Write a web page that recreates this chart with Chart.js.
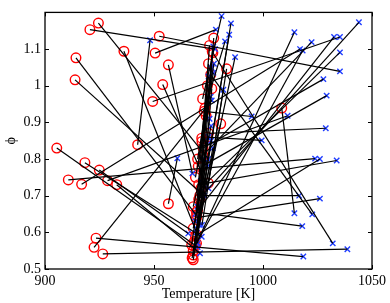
<!DOCTYPE html>
<html>
<head>
<meta charset="utf-8">
<script src="https://cdn.jsdelivr.net/npm/chart.js@4.4.1/dist/chart.umd.min.js"></script>
<style>
  html, body { margin: 0; padding: 0; background: #fff; }
</style>
</head>
<body>
<canvas id="phiChart" width="390" height="303"></canvas>
<script>
// each index i is one pair: red circle (start) joined to blue cross (end)
const redT = [
  924.5, 920.6, 914.2, 913.8, 936.2, 952.4, 950.5, 956.6, 954.0, 949.4,
  942.5, 905.4, 918.3, 924.9, 910.7, 916.8, 928.7, 932.9, 923.4, 922.5,
  926.5, 956.6, 970.5, 969.5, 972.5, 969.0, 970.0, 971.5, 972.5, 972.0,
  975.0, 974.5, 1008.6, 971.0, 969.0, 970.5, 969.5, 976.0, 977.0, 969.5,
  973.0, 968.0, 967.5, 968.5, 983.3, 977.4, 976.7, 976.5, 972.3, 973.4,
  973.9, 980.6, 971.9, 972.0, 970.3, 974.9, 971.1, 968.0, 969.6, 968.0,
  969.6, 967.3, 968.0, 968.0, 969.0, 970.0, 975.5, 974.5, 975.0
];
const redPhi = [
  1.171, 1.153, 1.076, 1.016, 1.094, 1.135, 1.089, 1.057, 1.003, 0.957,
  0.839, 0.830, 0.790, 0.770, 0.743, 0.731, 0.741, 0.730, 0.584, 0.559,
  0.541, 0.678, 0.690, 0.570, 0.810, 0.565, 0.660, 0.720, 0.830, 0.780,
  0.870, 0.860, 0.939, 0.700, 0.590, 0.730, 0.640, 1.030, 1.090, 0.655,
  0.930, 0.550, 0.530, 0.575, 1.046, 1.130, 1.094, 0.992, 0.964, 0.939,
  0.918, 0.896, 0.857, 0.848, 0.780, 0.734, 0.693, 0.670, 0.648, 0.611,
  0.593, 0.566, 0.538, 0.525, 0.750, 0.800, 1.110, 1.000, 1.060
];
const blueT = [
  975.0, 978.0, 969.0, 971.0, 969.5, 1035.3, 978.4, 967.6, 975.0, 1035.3,
  948.2, 970.0, 971.9, 965.7, 1023.9, 1017.0, 1011.3, 971.1, 1018.5, 976.5,
  1038.7, 960.7, 1044.0, 1014.4, 1022.3, 1018.2, 1032.6, 1035.3, 1027.7, 1029.2,
  1028.8, 999.4, 1014.4, 1016.6, 1026.1, 1033.8, 1026.1, 1022.6, 1032.0, 1018.0,
  994.8, 987.2, 985.3, 984.5, 972.0, 970.0, 969.6, 971.0, 981.0, 982.6,
  977.2, 970.5, 976.5, 977.2, 975.0, 981.8, 975.5, 976.2, 975.0, 976.2,
  977.0, 973.0, 974.5, 973.0, 976.0, 977.5, 969.0, 970.0, 971.5
];
const bluePhi = [
  0.800, 1.100, 0.650, 0.710, 0.600, 1.039, 1.153, 0.761, 0.720, 1.133,
  1.124, 0.560, 0.588, 0.597, 0.801, 1.100, 0.918, 0.543, 0.534, 0.960,
  0.554, 0.802, 1.173, 1.146, 1.119, 1.096, 1.133, 1.091, 1.018, 0.973,
  0.884, 0.851, 0.652, 0.700, 0.800, 0.796, 0.692, 0.649, 0.570, 0.617,
  0.916, 1.078, 1.170, 1.139, 0.620, 0.570, 0.610, 0.620, 1.190, 1.121,
  1.107, 0.660, 1.048, 1.035, 1.025, 0.989, 0.910, 0.890, 0.860, 0.850,
  0.830, 0.800, 0.780, 0.700, 0.970, 1.060, 0.630, 0.670, 0.740
];
const xTicks = [900, 950, 1000, 1050];
const yTicks = [0.5, 0.6, 0.7, 0.8, 0.9, 1.0, 1.1];

const serif = "'Liberation Serif', 'DejaVu Serif', serif";

// matlab-like box with inward ticks on all four sides
const boxTicks = {
  id: "boxTicks",
  afterDatasetsDraw(chart) {
    const { ctx, chartArea: a, scales: { x, y } } = chart;
    ctx.save();
    ctx.strokeStyle = "#000";
    ctx.lineWidth = 1.3;
    ctx.strokeRect(a.left, a.top, a.right - a.left, a.bottom - a.top);
    ctx.lineWidth = 1;
    ctx.beginPath();
    xTicks.forEach((v) => {
      const px = Math.round(x.getPixelForValue(v)) + 0.5;
      ctx.moveTo(px, a.bottom); ctx.lineTo(px, a.bottom - 4);
      ctx.moveTo(px, a.top); ctx.lineTo(px, a.top + 4);
    });
    yTicks.forEach((v) => {
      const py = Math.round(y.getPixelForValue(v)) + 0.5;
      ctx.moveTo(a.left, py); ctx.lineTo(a.left + 4, py);
      ctx.moveTo(a.right, py); ctx.lineTo(a.right - 4, py);
    });
    ctx.stroke();
    ctx.restore();
  },
};

const lineSets = redT.map((t, i) => ({
  data: [{ x: t, y: redPhi[i] }, { x: blueT[i], y: bluePhi[i] }],
  showLine: true,
  borderColor: "#000",
  borderWidth: 1.2,
  pointRadius: 0,
  pointHoverRadius: 0,
  clip: false,
}));

new Chart(document.getElementById("phiChart"), {
  type: "scatter",
  data: {
    datasets: [
      ...lineSets,
      {
        data: blueT.map((t, i) => ({ x: t, y: bluePhi[i] })),
        pointStyle: "crossRot",
        pointRadius: 3.8,
        borderColor: "#1f3dff",
        borderWidth: 1.4,
        clip: false,
      },
      {
        data: redT.map((t, i) => ({ x: t, y: redPhi[i] })),
        pointStyle: "circle",
        pointRadius: 4.8,
        borderColor: "#ff0000",
        backgroundColor: "rgba(0,0,0,0)",
        borderWidth: 1.4,
        clip: false,
      },
    ],
  },
  options: {
    responsive: false,
    animation: false,
    devicePixelRatio: 1,
    layout: { padding: { left: 0, right: 18, top: 10, bottom: 0 } },
    plugins: { legend: { display: false }, tooltip: { enabled: false } },
    scales: {
      x: {
        type: "linear",
        min: 900,
        max: 1050,
        afterBuildTicks: (s) => { s.ticks = xTicks.map((v) => ({ value: v })); },
        afterFit: (s) => { s.height = 34; },
        grid: { display: false, drawTicks: false },
        border: { display: false },
        ticks: {
          color: "#000",
          padding: 4,
          maxRotation: 0,
          font: { family: serif, size: 14 },
          callback: (v) => String(v),
        },
        title: { display: true, text: "Temperature [K]", color: "#000", padding: 0, font: { family: serif, size: 14 } },
      },
      y: {
        type: "linear",
        min: 0.5,
        max: 1.2,
        afterBuildTicks: (s) => { s.ticks = yTicks.map((v) => ({ value: v })); },
        afterFit: (s) => { s.width = 45; },
        grid: { display: false, drawTicks: false },
        border: { display: false },
        ticks: {
          color: "#000",
          padding: 4,
          font: { family: serif, size: 14 },
          callback: (v) => String(+v.toFixed(1)),
        },
        title: { display: true, text: "ϕ", color: "#000", padding: 3, font: { family: serif, size: 14 } },
      },
    },
  },
  plugins: [boxTicks],
});
</script>
</body>
</html>
